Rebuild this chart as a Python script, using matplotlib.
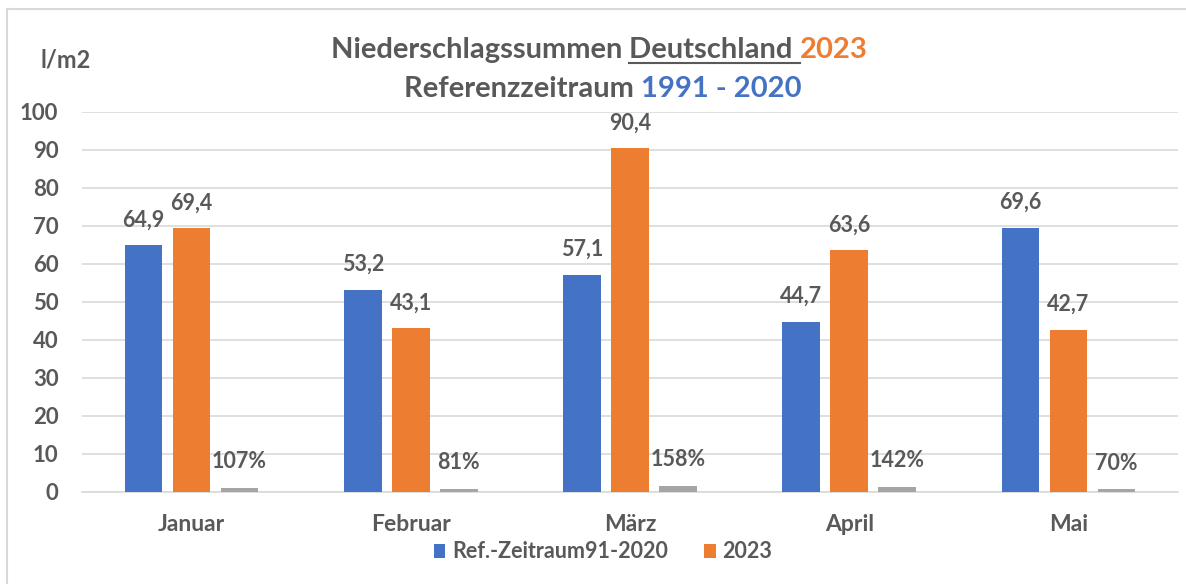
import matplotlib.pyplot as plt
import numpy as np

monate = ['Januar', 'Februar', 'März', 'April', 'Mai']
referenz = [64.9, 53.2, 57.1, 44.7, 69.6]
jahr2023 = [69.4, 43.1, 90.4, 63.6, 42.7]
prozent = [107, 81, 158, 142, 70]
yticks = [0, 10, 20, 30, 40, 50, 60, 70, 80, 90, 100]

blau = '#4472C4'
orange = '#ED7D31'
grau = '#A5A5A5'
txt = '#595959'

plt.rcParams['font.family'] = ['Lato', 'DejaVu Sans']
plt.rcParams['font.weight'] = 'bold'

fig = plt.figure(figsize=(11.86, 5.84), dpi=100)
W, H = 1186, 584
# Rahmen nur oben und links sichtbar (Ausschnitt)
fig.add_artist(plt.Line2D([7 / W, 7 / W], [0, 1 - 9 / H], color='#D9D9D9', lw=1.5))
fig.add_artist(plt.Line2D([7 / W, 1], [1 - 9 / H, 1 - 9 / H], color='#D9D9D9', lw=1.5))

ax = fig.add_axes([82 / W, 1 - 492 / H, 1096 / W, 380 / H])

x = np.arange(len(monate))
w = 0.172
g = 0.219
b1 = ax.bar(x - g, referenz, w, color=blau, zorder=3)
b2 = ax.bar(x, jahr2023, w, color=orange, zorder=3)
b3 = ax.bar(x + g, [p / 100 for p in prozent], w, color=grau, zorder=3)

for r, v in zip(b1, referenz):
    ax.text(r.get_x() + r.get_width() / 2, v + 5, f'{v:.1f}'.replace('.', ','),
            ha='center', va='baseline', fontsize=15.5, color=txt, fontweight='bold')
for r, v in zip(b2, jahr2023):
    ax.text(r.get_x() + r.get_width() / 2, v + 5, f'{v:.1f}'.replace('.', ','),
            ha='center', va='baseline', fontsize=15.5, color=txt, fontweight='bold')
for r, p in zip(b3, prozent):
    ax.text(r.get_x() + r.get_width() / 2, p / 100 + 5.2, f'{p}%',
            ha='center', va='baseline', fontsize=15.5, color=txt, fontweight='bold')

ax.set_xlim(-0.5, 4.5)
ax.set_ylim(0, 100)
ax.set_yticks(yticks)
ax.set_xticks(x)
ax.set_xticklabels(monate)
ax.grid(axis='y', color='#D9D9D9', lw=1.2, zorder=0)
for s in ['top', 'right', 'left']:
    ax.spines[s].set_visible(False)
ax.spines['bottom'].set_color('#D9D9D9')
ax.spines['bottom'].set_linewidth(1.2)
ax.tick_params(axis='both', length=0, colors=txt)
ax.tick_params(axis='y', pad=17, labelsize=16)
ax.tick_params(axis='x', pad=16, labelsize=16.5)

fig.text(66 / W, 1 - 60 / H, 'l/m2', ha='center', va='center', fontsize=17, color=txt, fontweight='bold')

# Titel in Stuecken, damit Farben und Unterstreichung passen
fig.canvas.draw()
r = fig.canvas.get_renderer()

def zeile(teile, y, xm):
    objs = []
    for s, c in teile:
        objs.append(fig.text(0, y, s, fontsize=21, color=c, fontweight='bold', va='baseline'))
    ws = [o.get_window_extent(r).width for o in objs]
    xpos = xm - sum(ws) / 2
    for o, ww in zip(objs, ws):
        o.set_x(xpos / W)
        xpos += ww
    return objs

t1 = zeile([('Niederschlagssummen ', txt), ('Deutschland ', txt), ('2023', orange)], 1 - 58 / H, 599)
zeile([('Referenzzeitraum ', txt), ('1991 - 2020', blau)], 1 - 97 / H, 603)
bb = t1[1].get_window_extent(r)
fig.add_artist(plt.Line2D([bb.x0 / W, bb.x1 / W], [1 - 63 / H] * 2, color=txt, lw=1.5))

fig.legend([b1, b2], ['Ref.-Zeitraum91-2020', '2023'], loc='center', bbox_to_anchor=(603 / W, 1 - 552 / H),
           ncol=2, frameon=False, fontsize=15.5, labelcolor=txt, handlelength=0.55, handleheight=0.6,
           handletextpad=0.3, columnspacing=1.7)

fig.savefig('out.png', dpi=100)
